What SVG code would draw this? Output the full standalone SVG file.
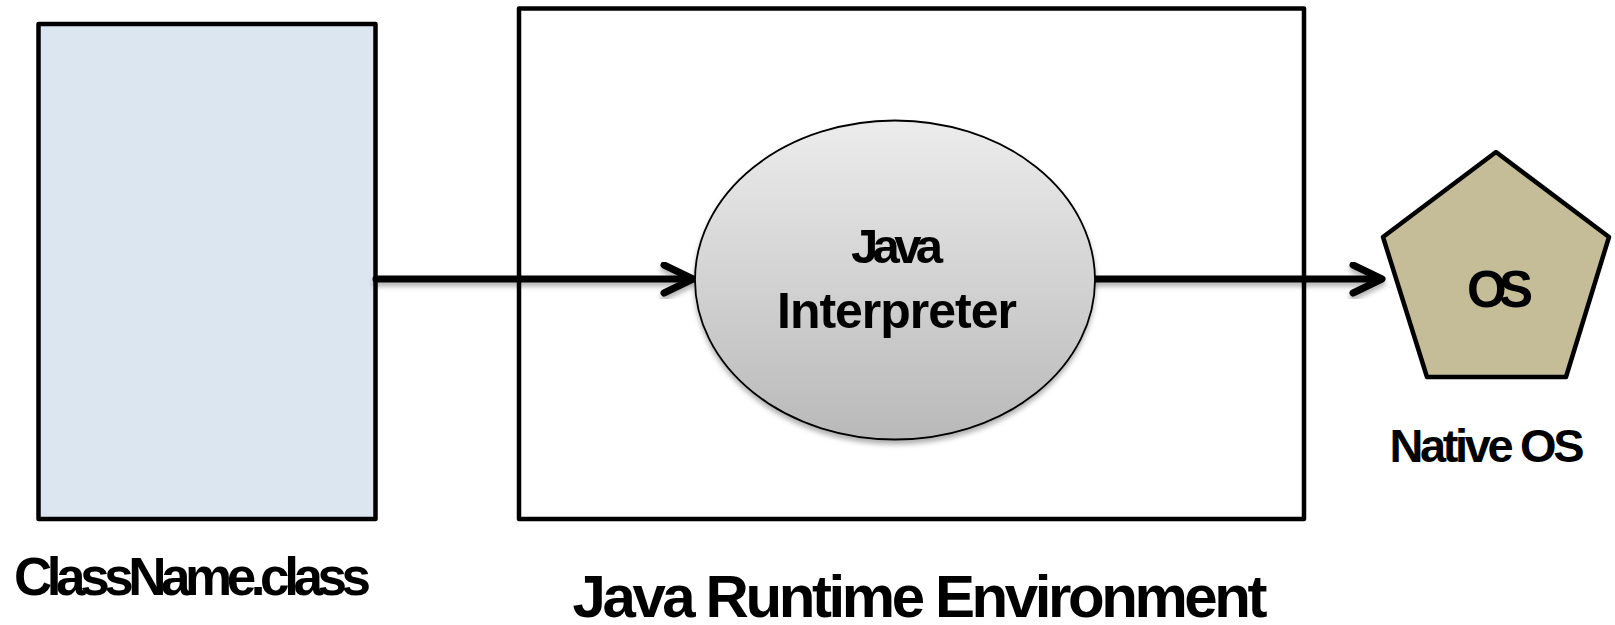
<svg xmlns="http://www.w3.org/2000/svg" width="1615" height="625" viewBox="0 0 1615 625">
<style>
  .lbl { font-family: "Liberation Sans", Arial, sans-serif; font-weight: bold; fill: #000; text-anchor: middle; }
  .box { stroke: #000; stroke-width: 4.5; stroke-linejoin: round; }
  .conn { stroke: #000; stroke-width: 7; fill: none; stroke-linecap: round; stroke-linejoin: round; }
</style>
<defs>
  <linearGradient id="ellGrad" x1="0" y1="0" x2="0" y2="1">
    <stop offset="0" stop-color="#ececec"/>
    <stop offset="1" stop-color="#b9b9b9"/>
  </linearGradient>
  <filter id="shadow" x="-10%" y="-10%" width="120%" height="130%">
    <feDropShadow dx="0" dy="4" stdDeviation="2.5" flood-color="#000" flood-opacity="0.3"/>
  </filter>
</defs>
<rect width="1615" height="625" fill="#fff"/>

<g id="classfile">
  <rect class="box" x="38.5" y="24" width="337" height="495" fill="#dce6f0"/>
  <text class="lbl" x="192.5" y="595" font-size="53" textLength="357" lengthAdjust="spacing">ClassName.class</text>
</g>

<g id="jre">
  <rect class="box" x="519" y="8.5" width="785" height="510.5" fill="none" stroke-width="4"/>
  <text class="lbl" x="920" y="617" font-size="60" textLength="695" lengthAdjust="spacing">Java Runtime Environment</text>
</g>

<g id="connectors" filter="url(#shadow)">
  <path class="conn" d="M376 279 H692"/>
  <path class="conn" d="M664 265 L693 279 L664 293"/>
  <path class="conn" d="M1095 279 H1381"/>
  <path class="conn" d="M1353 265 L1382 279 L1353 293"/>
</g>

<g id="interpreter">
  <ellipse cx="895" cy="280" rx="200" ry="159.5" fill="url(#ellGrad)" stroke="#000" stroke-width="1.8" filter="url(#shadow)"/>
  <text class="lbl" x="897" y="263" font-size="49" textLength="92" lengthAdjust="spacing">Java</text>
  <text class="lbl" x="897" y="328" font-size="50" textLength="240" lengthAdjust="spacing">Interpreter</text>
</g>

<g id="os">
  <polygon class="box" points="1496,152 1609,237 1566,377 1427,377 1383,237" fill="#c4bd97"/>
  <text class="lbl" x="1500" y="307" font-size="51" textLength="66" lengthAdjust="spacing">OS</text>
  <text class="lbl" x="1487" y="462" font-size="47" textLength="195" lengthAdjust="spacing">Native OS</text>
</g>
</svg>
